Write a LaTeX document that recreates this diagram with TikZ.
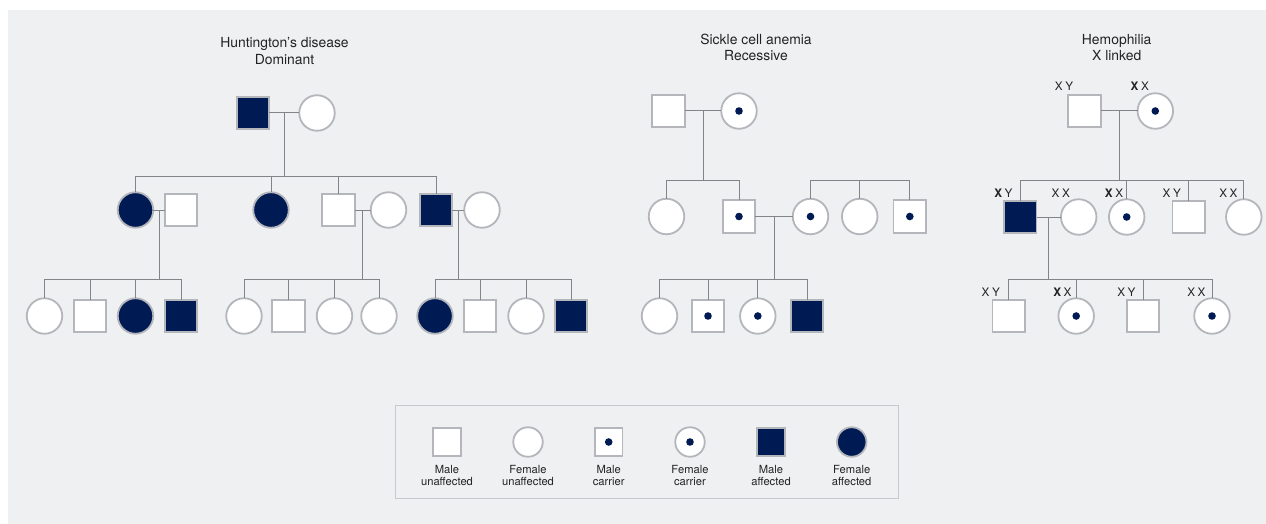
\documentclass[tikz,border=0pt]{standalone}
\usepackage{fontspec}
\setmainfont{TeX Gyre Heros}
\usetikzlibrary{calc}
\definecolor{panel}{RGB}{239,240,242}
\definecolor{navy}{RGB}{0,27,84}
\definecolor{rim}{RGB}{180,182,188}
\definecolor{wirec}{RGB}{130,132,137}
\definecolor{ink}{RGB}{35,35,38}
\definecolor{frame}{RGB}{200,201,205}

\tikzset{
  person/.style={draw=rim, line width=1.8pt, fill=white, inner sep=0pt, outer sep=0pt},
  male/.style={person, rectangle, minimum size=32.5pt},
  female/.style={person, circle, minimum size=35.5pt},
  smallmale/.style={person, rectangle, minimum size=27.5pt},
  smallfemale/.style={person, circle, minimum size=29.5pt},
  sick/.style={fill=navy},
  carrier/.style={path picture={\fill[navy] (path picture bounding box.center) circle (3.8pt);}},
  wire/.style={draw=wirec, line width=1pt},
  title/.style={font=\fontsize{13.9}{16.8}\selectfont, text=ink, align=center, inner sep=0pt},
  geno/.style={font=\fontsize{11.7}{13}\selectfont, text=ink, anchor=base east, inner sep=0pt},
  keytext/.style={font=\fontsize{11.2}{12.7}\selectfont, text=ink, align=center, inner sep=0pt},
}

% couple line, descent line from its middle, sibship bar and drops to each child
\newcommand\couple[2]{%
  \draw[wire] (#1.east) -- (#2.west);
  \coordinate (#1#2) at ($(#1.east)!0.5!(#2.west)$);}
\newcommand\descent[2]{% #1 couple, #2 level
  \draw[wire] (#1) -- (#1 |- #2);}
\newcommand\sibs[3]{% #1 level, #2 first child, #3 last child
  \draw[wire] (#2.north |- #1) -- (#3.north |- #1);}
\newcommand\drops[2]{% #1 level, #2 children
  \foreach \c in {#2} {\draw[wire] (\c.north) -- (\c.north |- #1);}}
\newcommand\XX{\textbf{X}\kern2.6pt X}
\newcommand\Xx{X\kern2.6pt X}
\newcommand\XY{\textbf{X}\kern2.6pt Y}
\newcommand\Xy{X\kern2.6pt Y}

\begin{document}
\begin{tikzpicture}[x=1pt,y=-1pt]
\useasboundingbox (0,0) rectangle (1266,524);
\fill[white] (0,0) rectangle (1266,524);
\fill[panel] (8,10) rectangle (1266,524);

% sibship levels
\coordinate (hA) at (0,176);
\coordinate (hB) at (0,279);
\coordinate (sA) at (0,180);
\coordinate (sB) at (0,279);

% ---------------- Huntington's disease ----------------
\node[title] (htitle) at (284.5,51) {Huntington’s disease\\Dominant};

\node[male,sick] (h1) at (253,113) {};
\node[female] (h2) at (317,113) {};

\node[female,sick] (h3) at (135.5,210) {};
\node[male] (h4) at (181,210) {};
\node[female,sick] (h5) at (271,210) {};
\node[male] (h6) at (338.5,210) {};
\node[female] (h7) at (388.5,210) {};
\node[male,sick] (h8) at (436,210) {};
\node[female] (h9) at (482,210) {};

\node[female] (h10) at (44.5,316) {};
\node[male] (h11) at (90,316) {};
\node[female,sick] (h12) at (135.5,316) {};
\node[male,sick] (h13) at (181,316) {};
\node[female] (h14) at (244,316) {};
\node[male] (h15) at (288.5,316) {};
\node[female] (h16) at (334.5,316) {};
\node[female] (h17) at (379,316) {};
\node[female,sick] (h18) at (435,316) {};
\node[male] (h19) at (480,316) {};
\node[female] (h20) at (526,316) {};
\node[male,sick] (h21) at (571,316) {};

\couple{h1}{h2}
\descent{h1h2}{hA}
\sibs{hA}{h3}{h8}
\drops{hA}{h3,h5,h6,h8}

\couple{h3}{h4}
\descent{h3h4}{hB}
\sibs{hB}{h10}{h13}
\drops{hB}{h10,h11,h12,h13}

\couple{h6}{h7}
\descent{h6h7}{hB}
\sibs{hB}{h14}{h17}
\drops{hB}{h14,h15,h16,h17}

\couple{h8}{h9}
\descent{h8h9}{hB}
\sibs{hB}{h18}{h21}
\drops{hB}{h18,h19,h20,h21}

% ---------------- Sickle cell anemia ----------------
\node[title] (stitle) at (756,47.5) {Sickle cell anemia\\Recessive};

\node[male] (s1) at (668.5,111) {};
\node[female,carrier] (s2) at (739,111) {};

\node[female] (s3) at (666.5,216.5) {};
\node[male,carrier] (s4) at (739,216.5) {};
\node[female,carrier] (s5) at (810.5,216.5) {};
\node[female] (s6) at (859.7,216.5) {};
\node[male,carrier] (s7) at (909.8,216.5) {};

\node[female] (s8) at (659.5,316) {};
\node[male,carrier] (s9) at (708,316) {};
\node[female,carrier] (s10) at (757.8,316) {};
\node[male,sick] (s11) at (807,316) {};

\couple{s1}{s2}
\descent{s1s2}{sA}
\sibs{sA}{s3}{s4}
\drops{sA}{s3,s4}

\sibs{sA}{s5}{s7}
\drops{sA}{s5,s6,s7}

\couple{s4}{s5}
\descent{s4s5}{sB}
\sibs{sB}{s8}{s11}
\drops{sB}{s8,s9,s10,s11}

% ---------------- Hemophilia ----------------
\node[title] (xtitle) at (1116.7,47.5) {Hemophilia\\X linked};

\node[male] (x1) at (1084.5,111) {};
\node[female,carrier] (x2) at (1155.3,111) {};

\node[male,sick] (x3) at (1020.3,217) {};
\node[female] (x4) at (1078.7,217) {};
\node[female,carrier] (x5) at (1126.7,217) {};
\node[male] (x6) at (1188.8,217) {};
\node[female] (x7) at (1243.8,217) {};

\node[male] (x8) at (1008.8,316) {};
\node[female,carrier] (x9) at (1076.2,316) {};
\node[male] (x10) at (1143,316) {};
\node[female,carrier] (x11) at (1212,316) {};

\couple{x1}{x2}
\descent{x1x2}{sA}
\sibs{sA}{x3}{x7}
\drops{sA}{x3,x5,x6,x7}

\couple{x3}{x4}
\descent{x3x4}{sB}
\sibs{sB}{x8}{x11}
\drops{sB}{x8,x9,x10,x11}

% genotypes
\node[geno] (g1) at (1073.3,91) {\Xy};
\node[geno] (g2) at (1149,91) {\XX};
\node[geno] (g3) at (1012.7,197.3) {\XY};
\node[geno] (g4) at (1070,197.3) {\Xx};
\node[geno] (g5) at (1123.3,197.3) {\XX};
\node[geno] (g6) at (1181,197.3) {\Xy};
\node[geno] (g7) at (1237.7,197.3) {\Xx};
\node[geno] (g8) at (1000,296.7) {\Xy};
\node[geno] (g9) at (1071.7,296.7) {\XX};
\node[geno] (g10) at (1135.7,296.7) {\Xy};
\node[geno] (g11) at (1205.7,296.7) {\Xx};

% ---------------- Key ----------------
\node[draw=frame, line width=1pt, fill=panel, minimum width=503pt, minimum height=93pt, inner sep=0pt] (legend) at (646.5,451.5) {};

\node[smallmale] (k1) at (447,442) {};
\node[smallfemale] (k2) at (528,442) {};
\node[smallmale,carrier] (k3) at (608.7,442) {};
\node[smallfemale,carrier] (k4) at (690,442) {};
\node[smallmale,sick] (k5) at (771,442) {};
\node[smallfemale,sick] (k6) at (851.7,442) {};

\node[keytext] (t1) at (447,475.5) {Male\\unaffected};
\node[keytext] (t2) at (528,475.5) {Female\\unaffected};
\node[keytext] (t3) at (608.7,475.5) {Male\\carrier};
\node[keytext] (t4) at (690,475.5) {Female\\carrier};
\node[keytext] (t5) at (771,475.5) {Male\\affected};
\node[keytext] (t6) at (851.7,475.5) {Female\\affected};
\end{tikzpicture}
\end{document}
